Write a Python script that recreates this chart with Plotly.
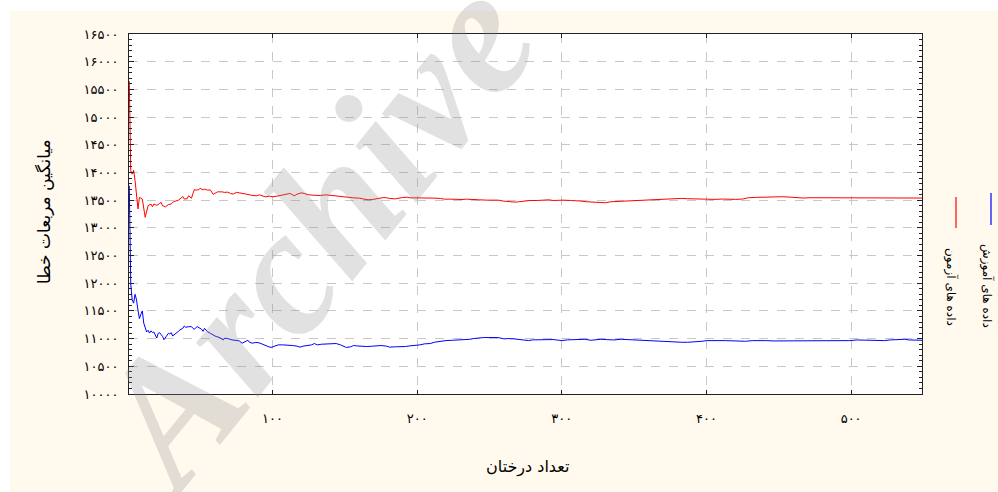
import plotly.graph_objects as go

# ---------------- data ----------------
test_x = [1, 2, 3, 4, 5, 6, 7, 8, 10, 12, 14, 16, 17, 18, 19, 20, 22, 23, 24, 26, 28, 30, 31, 32, 35,
          36, 38, 39, 41, 42, 44, 45, 46, 47, 49, 50, 52, 53, 55, 57, 58, 59, 61, 62, 65, 67, 69, 71,
          73, 75, 77, 80, 82, 85, 89, 91, 95, 98, 100, 103, 106, 110, 112, 114, 115, 117, 120, 122,
          125, 128, 133, 137, 141, 144, 148, 151, 156, 160, 164, 166, 169, 171, 174, 177, 179, 181,
          185, 187, 190, 193, 195, 198, 202, 207, 210, 213, 216, 219, 223, 227, 231, 234, 239, 243,
          248, 253, 256, 260, 262, 265, 268, 270, 273, 278, 283, 287, 291, 294, 298, 301, 306, 310,
          313, 317, 322, 327, 330, 334, 338, 343, 348, 352, 357, 362, 366, 370, 373, 378, 383, 387,
          392, 397, 401, 406, 411, 415, 420, 425, 429, 434, 439, 443, 448, 453, 457, 462, 467, 471,
          476, 481, 485, 490, 495, 499, 504, 509, 513, 518, 523, 527, 532, 537, 541, 546, 549]
test_mse = [15650, 14030, 13970, 14040, 13850, 13600, 13340, 13550, 13520, 13190, 13400, 13430, 13380,
            13430, 13410, 13405, 13440, 13460, 13400, 13380, 13420, 13430, 13460, 13475, 13500, 13520,
            13565, 13520, 13525, 13580, 13535, 13620, 13690, 13680, 13690, 13715, 13685, 13700, 13680,
            13685, 13655, 13605, 13635, 13650, 13650, 13640, 13645, 13620, 13610, 13640, 13632, 13625,
            13608, 13590, 13578, 13596, 13560, 13572, 13560, 13572, 13590, 13608, 13620, 13596, 13578,
            13608, 13632, 13620, 13596, 13590, 13584, 13596, 13584, 13578, 13560, 13548, 13542, 13536,
            13512, 13506, 13512, 13524, 13536, 13548, 13542, 13530, 13524, 13536, 13548, 13554, 13542,
            13542, 13542, 13548, 13548, 13536, 13530, 13518, 13518, 13512, 13512, 13518, 13506, 13506,
            13500, 13500, 13500, 13482, 13476, 13464, 13464, 13470, 13482, 13494, 13494, 13500, 13506,
            13494, 13500, 13500, 13494, 13494, 13484, 13471, 13459, 13447, 13453, 13471, 13477, 13484,
            13484, 13490, 13496, 13502, 13514, 13526, 13526, 13526, 13532, 13526, 13520, 13520, 13514,
            13514, 13520, 13514, 13514, 13520, 13544, 13550, 13556, 13562, 13562, 13562, 13556, 13544,
            13538, 13544, 13544, 13544, 13544, 13544, 13544, 13544, 13538, 13538, 13538, 13538, 13538,
            13538, 13532, 13532, 13538, 13544, 13538]

train_x = [1, 2, 3, 4, 5, 6, 7, 8, 9, 10, 11, 12, 13, 14, 15, 16, 17, 18, 19, 20, 21, 22, 23, 24, 25,
           27, 28, 29, 30, 31, 32, 33, 35, 36, 38, 39, 40, 42, 44, 45, 46, 47, 48, 51, 52, 53, 54, 55,
           57, 59, 61, 63, 66, 67, 69, 72, 74, 77, 79, 81, 83, 84, 86, 88, 90, 92, 95, 97, 99, 102,
           104, 107, 111, 114, 117, 119, 121, 124, 127, 129, 131, 134, 137, 141, 144, 147, 149, 151,
           154, 156, 158, 162, 165, 169, 172, 175, 179, 181, 185, 188, 192, 195, 199, 202, 205, 209,
           212, 216, 220, 225, 230, 234, 237, 239, 242, 246, 249, 253, 256, 260, 263, 267, 270, 274,
           277, 280, 284, 287, 291, 294, 298, 300, 304, 308, 313, 316, 320, 323, 327, 331, 336, 341,
           345, 350, 355, 359, 364, 369, 373, 378, 383, 387, 392, 397, 400, 404, 408, 413, 418, 422,
           427, 432, 436, 441, 446, 450, 455, 460, 467, 474, 481, 488, 495, 499, 504, 509, 513, 518,
           523, 527, 532, 537, 540, 544, 549]
train_mse = [13760, 11990, 11700, 11640, 11800, 11700, 11515, 11360, 11440, 11500, 11280, 11200, 11120,
             11150, 11100, 11140, 11110, 11120, 11060, 11010, 11096, 11108, 11070, 11040, 10980, 11048,
             11096, 11084, 11108, 11048, 11066, 11096, 11132, 11156, 11186, 11228, 11204, 11216, 11216,
             11186, 11168, 11198, 11216, 11168, 11132, 11186, 11144, 11126, 11096, 11066, 11037, 11025,
             10977, 11007, 11001, 10977, 10965, 10960, 10917, 10947, 10971, 10935, 10917, 10929, 10929,
             10911, 10887, 10857, 10840, 10869, 10887, 10887, 10887, 10875, 10863, 10846, 10863, 10875,
             10887, 10911, 10887, 10899, 10899, 10911, 10911, 10887, 10863, 10840, 10852, 10875, 10869,
             10857, 10857, 10863, 10869, 10875, 10863, 10846, 10852, 10852, 10857, 10869, 10875, 10887,
             10905, 10911, 10935, 10953, 10965, 10971, 10977, 10977, 10989, 11001, 11013, 11019, 11019,
             11025, 11019, 10995, 11001, 10995, 10989, 10983, 10965, 10977, 10977, 10989, 10989, 10983,
             10971, 10965, 10977, 10983, 10992, 10988, 10970, 10982, 10988, 10982, 10976, 10988, 10982,
             10976, 10970, 10964, 10958, 10946, 10952, 10940, 10934, 10934, 10940, 10952, 10964, 10970,
             10964, 10964, 10958, 10958, 10952, 10964, 10970, 10964, 10958, 10958, 10964, 10964, 10964,
             10964, 10958, 10958, 10958, 10964, 10976, 10970, 10964, 10964, 10964, 10976, 10982, 10988,
             10976, 10976, 10970]

y_tick_vals = [10000, 10500, 11000, 11500, 12000, 12500, 13000, 13500, 14000, 14500, 15000, 15500, 16000, 16500]
y_tick_text = ["۱۰۰۰۰", "۱۰۵۰۰", "۱۱۰۰۰", "۱۱۵۰۰", "۱۲۰۰۰", "۱۲۵۰۰", "۱۳۰۰۰", "۱۳۵۰۰",
               "۱۴۰۰۰", "۱۴۵۰۰", "۱۵۰۰۰", "۱۵۵۰۰", "۱۶۰۰۰", "۱۶۵۰۰"]
x_tick_vals = [100, 200, 300, 400, 500]
x_tick_text = ["۱۰۰", "۲۰۰", "۳۰۰", "۴۰۰", "۵۰۰"]

train_name = "داده های آموزش"
test_name = "داده های آزمون"
x_title = "تعداد درختان"
y_title = "میانگین مربعات خطا"

# ---------------- layout geometry (page pixels; body margin removed) ----------------
W, H = 998, 492
L, R, T, B = 129, 76, 34, 98
PW, PH = W - L - R, H - T - B


def px(xp):                  # page pixel -> paper x
    return (xp - L) / PW


def py(yp):                  # page pixel -> paper y
    return 1 - (yp - T) / PH


FONT = "DejaVu Sans"
CREAM = "#FFF9EE"

fig = go.Figure()
fig.add_trace(go.Scatter(x=test_x, y=test_mse, mode="lines", name=test_name,
                         line=dict(color="#FF0000", width=1)))
fig.add_trace(go.Scatter(x=train_x, y=train_mse, mode="lines", name=train_name,
                         line=dict(color="#0000FF", width=1)))

axis_common = dict(showline=True, linecolor="#222222", linewidth=1, mirror="ticks",
                   ticks="inside", tickcolor="#222222", showgrid=True,
                   gridcolor="#C8C8C8", griddash="dash", gridwidth=1, zeroline=False,
                   tickfont=dict(family=FONT, size=13, color="#000000"))

fig.update_xaxes(range=[0.8, 549], tickvals=x_tick_vals, ticktext=x_tick_text,
                 ticklen=4, ticklabelstandoff=12, **axis_common)
fig.update_yaxes(range=[10000, 16500], tickvals=y_tick_vals, ticktext=y_tick_text,
                 ticklen=5, ticklabelstandoff=7,
                 minor=dict(dtick=100, ticks="inside", ticklen=3, tickcolor="#222222", showgrid=False),
                 **axis_common)


def ann(text, x, y, size, angle=0, family=FONT, color="#000000", **kw):
    return dict(text=text, x=px(x), y=py(y), xref="paper", yref="paper", showarrow=False,
                xanchor="center", yanchor="middle", textangle=angle,
                font=dict(family=family, size=size, color=color, **kw))


annotations = [
    ann(y_title, 44, 212, 17, angle=-90),
    ann(x_title, 527, 467, 16),
    ann(train_name, 987, 286, 12, angle=90),
    ann(test_name, 951, 287, 12, angle=90),
    ann("Archive", 312, 234, 180, angle=-51, family="Liberation Serif",
        color="rgba(140,140,140,0.26)", weight="bold", style="italic"),
]

shapes = [
    # white outer strips (top and left)
    dict(type="rect", xref="paper", yref="paper", x0=px(0), x1=px(998), y0=py(0), y1=py(11),
         fillcolor="#FFFFFF", line=dict(width=0), layer="below"),
    dict(type="rect", xref="paper", yref="paper", x0=px(0), x1=px(10), y0=py(0), y1=py(492),
         fillcolor="#FFFFFF", line=dict(width=0), layer="below"),
    # legend swatches (vertical)
    dict(type="line", xref="paper", yref="paper", x0=px(991), x1=px(991), y0=py(193), y1=py(225),
         line=dict(color="#0000FF", width=1.2)),
    dict(type="line", xref="paper", yref="paper", x0=px(956), x1=px(956), y0=py(197), y1=py(228),
         line=dict(color="#FF0000", width=1.2)),
]

fig.update_layout(width=W, height=H, margin=dict(l=L, r=R, t=T, b=B, pad=0),
                  paper_bgcolor=CREAM, plot_bgcolor="#FFFFFF", showlegend=False,
                  annotations=annotations, shapes=shapes)

fig.write_html("out.html", config={"displayModeBar": False},
               post_script="document.body.style.margin='0';document.body.style.overflow='hidden';")
